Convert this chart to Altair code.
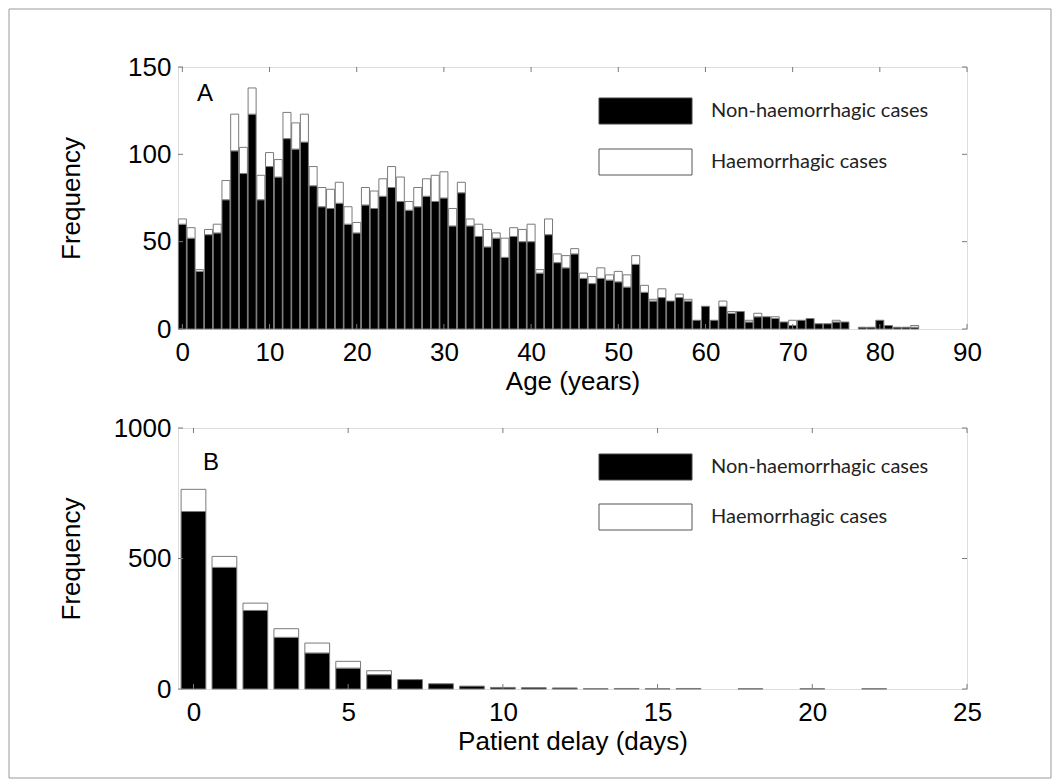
import altair as alt
import pandas as pd

# ---------------- data ----------------
ages = list(range(85))
age_non = [60, 52, 33, 54, 55, 74, 102, 89, 123, 74, 93, 87, 109, 103, 107, 82, 70, 69, 72, 60,
           55, 71, 69, 76, 81, 73, 68, 70, 76, 73, 75, 59, 78, 59, 53, 47, 52, 41, 53, 50,
           50, 32, 54, 38, 35, 43, 29, 26, 29, 28, 27, 24, 37, 21, 16, 18, 16, 18, 16, 5,
           13, 5, 13, 9, 10, 4, 7, 7, 6, 4, 2, 5, 6, 3, 3, 4, 4, 0, 1, 1,
           5, 2, 1, 1, 1]
age_haem = [3, 6, 1, 3, 5, 11, 21, 15, 15, 14, 8, 10, 15, 15, 16, 11, 11, 11, 12, 10,
            6, 10, 10, 10, 12, 14, 5, 11, 10, 15, 15, 10, 6, 4, 7, 10, 3, 11, 5, 7,
            10, 2, 9, 5, 7, 3, 3, 4, 6, 3, 6, 7, 5, 4, 1, 5, 0, 2, 1, 0,
            0, 0, 3, 1, 0, 1, 2, 0, 1, 0, 3, 0, 0, 0, 0, 1, 0, 0, 0, 0,
            0, 0, 0, 0, 1]

delay_days = list(range(23))
delay_non = [680, 466, 301, 198, 138, 80, 55, 36, 20, 11, 6, 5, 4, 1, 2, 1, 2, 0, 1, 0, 1, 0, 1]
delay_haem = [85, 42, 28, 33, 38, 26, 15, 0, 0, 0, 0, 0, 0, 0, 0, 0, 0, 0, 0, 0, 0, 0, 0]

age_xticks = [0, 10, 20, 30, 40, 50, 60, 70, 80, 90]
age_yticks = [0, 50, 100, 150]
delay_xticks = [0, 5, 10, 15, 20, 25]
delay_yticks = [0, 500, 1000]

legend_labels = ["Non-haemorrhagic cases", "Haemorrhagic cases"]

# ---------------- style ----------------
AXIS_FONT = "Liberation Sans"
LEG_FONT = "Lato"
EDGE = "#7a7a7a"
W = 789
HA = 262
HB = 261
TICK_FS = 26
TITLE_FS = 26


def panel(cats, non, haem, xdom, ydom, xticks, yticks, half, xtitle, letter,
          letter_xy, leg_ys, H, frame=False):
    df = pd.DataFrame({"x": cats, "non": non, "haem": haem})
    df["total"] = df["non"] + df["haem"]
    xs = alt.Scale(domain=xdom, nice=False, zero=False)
    ys = alt.Scale(domain=ydom, nice=False, zero=False)
    xaxis = alt.Axis(values=xticks, title=xtitle, ticks=False, tickSize=0, domain=False,
                     grid=False, labelFont=AXIS_FONT, labelFontSize=TICK_FS,
                     labelColor="black", labelPadding=10, labelFlush=False,
                     titleFont=AXIS_FONT, titleFontSize=TITLE_FS, titleFontWeight="normal",
                     titleColor="black", titleY=39, titleX=W / 2, titleBaseline="top",
                     titleAlign="center", format="d", labelOverlap=False)
    yaxis = alt.Axis(values=yticks, title="Frequency", ticks=False, tickSize=0, domain=False,
                     grid=False, labelFont=AXIS_FONT, labelFontSize=TICK_FS,
                     labelColor="black", labelPadding=7, labelFlush=False,
                     titleFont=AXIS_FONT, titleFontSize=TITLE_FS, titleFontWeight="normal",
                     titleColor="black", titleX=-94, titleY=H / 2, titleAngle=-90,
                     titleBaseline="bottom", titleAlign="center", format="d",
                     labelOverlap=False)

    base = alt.Chart(df).transform_calculate(
        x0=f"datum.x - {half}", x1=f"datum.x + {half}", zero="0")

    black = base.transform_filter("datum.non > 0").mark_rect(
        fill="black", stroke=EDGE, strokeWidth=1).encode(
        x=alt.X("x0:Q", scale=xs, axis=xaxis, title=xtitle),
        x2="x1:Q",
        y=alt.Y("non:Q", scale=ys, axis=yaxis, title="Frequency"),
        y2="zero:Q",
    )
    white = base.transform_filter("datum.haem > 0").mark_rect(
        fill="white", stroke=EDGE, strokeWidth=1).encode(
        x=alt.X("x0:Q", scale=xs, axis=xaxis, title=xtitle),
        x2="x1:Q",
        y=alt.Y("total:Q", scale=ys, axis=yaxis, title="Frequency"),
        y2="non:Q",
    )

    xt = alt.Chart(pd.DataFrame({"v": xticks}))
    yt = alt.Chart(pd.DataFrame({"v": yticks}))
    tick_b = xt.mark_rule(stroke=EDGE, strokeWidth=1).encode(
        x=alt.X("v:Q", scale=xs, axis=xaxis, title=xtitle), y=alt.value(H), y2=alt.value(H - 5))
    tick_t = xt.mark_rule(stroke=EDGE, strokeWidth=1).encode(
        x=alt.X("v:Q", scale=xs, axis=xaxis, title=xtitle), y=alt.value(0), y2=alt.value(5))
    tick_l = yt.mark_rule(stroke=EDGE, strokeWidth=1).encode(
        y=alt.Y("v:Q", scale=ys, axis=yaxis, title="Frequency"), x=alt.value(0), x2=alt.value(5))
    tick_r = yt.mark_rule(stroke=EDGE, strokeWidth=1).encode(
        y=alt.Y("v:Q", scale=ys, axis=yaxis, title="Frequency"), x=alt.value(W - 5), x2=alt.value(W))

    one = alt.Chart(pd.DataFrame({"k": [0]}))
    y0, y1 = leg_ys
    leg_black = one.mark_rect(fill="black", stroke="#444", strokeWidth=1).encode(
        x=alt.value(421), x2=alt.value(514), y=alt.value(y0), y2=alt.value(y0 + 26))
    leg_white = one.mark_rect(fill="white", stroke="#555", strokeWidth=1).encode(
        x=alt.value(421), x2=alt.value(514), y=alt.value(y1), y2=alt.value(y1 + 26))
    leg_t1 = one.mark_text(text=legend_labels[0], align="left", baseline="middle",
                           font=LEG_FONT, fontSize=20, color="#222").encode(
        x=alt.value(533), y=alt.value(y0 + 13))
    leg_t2 = one.mark_text(text=legend_labels[1], align="left", baseline="middle",
                           font=LEG_FONT, fontSize=20, color="#222").encode(
        x=alt.value(533), y=alt.value(y1 + 13))
    lett = one.mark_text(text=letter, align="center", baseline="middle",
                         font=AXIS_FONT, fontSize=24, color="black").encode(
        x=alt.value(letter_xy[0]), y=alt.value(letter_xy[1]))

    layers = [black, white, tick_b, tick_t, tick_l, tick_r,
              leg_black, leg_white, leg_t1, leg_t2, lett]
    if frame:
        fr = one.mark_rect(filled=False, stroke="#9a9a9a", strokeWidth=1).encode(
            x=alt.value(-169), x2=alt.value(873), y=alt.value(-58), y2=alt.value(711))
        layers.append(fr)
    return alt.layer(*layers).properties(width=W, height=H)


pa = panel(ages, age_non, age_haem, [-0.5, 90], [0, 150], age_xticks, age_yticks,
           0.46, "Age (years)", "A", (27, 27), (31, 82), HA, frame=True)
pb = panel(delay_days, delay_non, delay_haem, [-0.5, 25], [0, 1000], delay_xticks,
           delay_yticks, 0.4, "Patient delay (days)", "B", (33, 35), (26, 76), HB)

chart = alt.vconcat(pa, pb, spacing=99, bounds="flush").properties(
    padding=0
).configure_view(stroke=EDGE, strokeWidth=1).configure(background="white")

chart.save("out.html", embed_options={"renderer": "svg", "actions": False})
